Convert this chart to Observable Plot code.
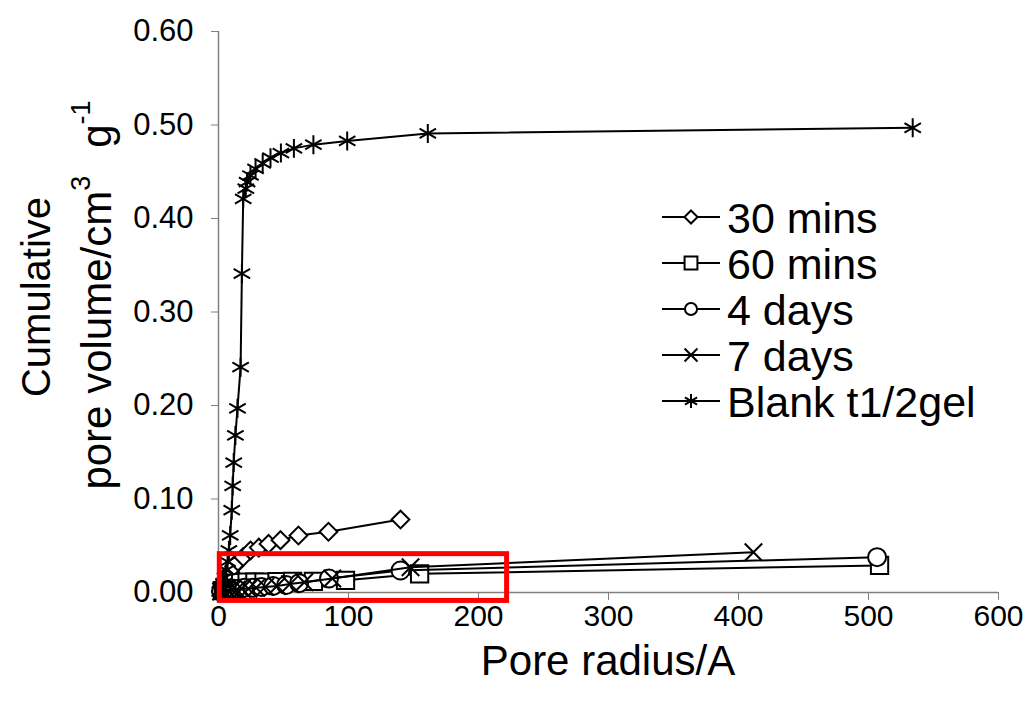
<!DOCTYPE html>
<html>
<head>
<meta charset="utf-8">
<script src="https://cdn.jsdelivr.net/npm/d3@7"></script>
<script src="https://cdn.jsdelivr.net/npm/@observablehq/plot@0.6"></script>
<style>
  html, body { margin: 0; padding: 0; background: #fff; }
  #chart { width: 1029px; height: 704px; }
</style>
</head>
<body>
<div id="chart"></div>
<script>
// ---- data ----
const seriesNames = ["30 mins", "60 mins", "4 days", "7 days", "Blank t1/2gel"];

const r30 = [2, 3, 5, 7, 9, 12, 15, 19, 24.6, 31, 38.5, 47.7, 61.5, 84.6, 140];
const v30 = [0.002, 0.005, 0.010, 0.016, 0.022, 0.028, 0.033, 0.038, 0.045, 0.048, 0.052, 0.056, 0.061, 0.065, 0.078];

const r60 = [3, 5, 7, 10, 13, 17, 22, 28, 35, 45, 57, 73, 97.7, 154.7, 508.5];
const v60 = [0.002, 0.005, 0.007, 0.009, 0.010, 0.0105, 0.011, 0.011, 0.0112, 0.0115, 0.0118, 0.012, 0.013, 0.020, 0.029];

const r4d = [2, 4, 6, 9, 12, 16, 20, 26, 33, 42, 52, 62, 85, 140, 506.6];
const v4d = [0.001, 0.002, 0.003, 0.003, 0.004, 0.004, 0.005, 0.005, 0.006, 0.007, 0.008, 0.010, 0.015, 0.0235, 0.0378];

const r7d = [2, 4, 7, 10, 14, 18, 23, 29, 36, 45, 55, 66, 87.5, 147.7, 411.5];
const v7d = [0.001, 0.002, 0.002, 0.003, 0.003, 0.004, 0.004, 0.005, 0.006, 0.007, 0.009, 0.011, 0.015, 0.027, 0.043];

const rBlank = [1, 2, 3, 4, 5, 6, 7, 8, 9, 10.2, 10.9, 11.7, 13, 14.6, 17, 18, 19, 21, 22, 24.6, 28.5, 34, 40, 48, 58, 73, 99, 161, 534];
const vBlank = [0.001, 0.003, 0.006, 0.010, 0.016, 0.024, 0.033, 0.045, 0.061, 0.088, 0.114, 0.139, 0.168, 0.197, 0.241, 0.341, 0.421, 0.432, 0.439, 0.446, 0.453, 0.459, 0.465, 0.470, 0.475, 0.479, 0.483, 0.491, 0.497];

const xTicks = [0, 100, 200, 300, 400, 500, 600];
const yTicks = [0, 0.1, 0.2, 0.3, 0.4, 0.5, 0.6];

// highlighted region (red annotation box), data units
const boxX = [1, 222];
const boxY = [-0.009, 0.041];

// ---- styling ----
const symbols = ["diamond2", "square2", "circle", "times", "asterisk"];
const radii   = [8, 11, 9, 8, 9];
const fills   = ["white", "white", "white", "none", "none"];
const FONT = "'Liberation Sans', Arial, Helvetica, sans-serif";

const rs = [r30, r60, r4d, r7d, rBlank];
const vs = [v30, v60, v4d, v7d, vBlank];
const series = seriesNames.map((name, i) =>
  rs[i].map((r, j) => ({series: name, radius: r, volume: vs[i][j]}))
);

const marks = [
  Plot.ruleX([0], {stroke: "#808080", strokeWidth: 1.5}),
  Plot.ruleY([0], {stroke: "#808080", strokeWidth: 1.5}),
  Plot.axisX({ticks: xTicks, tickSize: 8, tickPadding: 4, label: null, stroke: "#808080", fill: "black", fontSize: 30}),
  Plot.axisY({ticks: yTicks, tickSize: 7, tickPadding: 18, label: null, stroke: "#808080", fill: "black", fontSize: 31, tickFormat: d3.format(".2f")})
];
series.forEach((data, i) => {
  marks.push(Plot.line(data, {x: "radius", y: "volume", stroke: "black", strokeWidth: 2}));
  marks.push(Plot.dot(data, {x: "radius", y: "volume", symbol: () => symbols[i], r: radii[i],
    fill: fills[i], stroke: "black", strokeWidth: 2}));
});
marks.push(Plot.rect([{x1: boxX[0], x2: boxX[1], y1: boxY[0], y2: boxY[1]}],
  {x1: "x1", x2: "x2", y1: "y1", y2: "y2", fill: "none", stroke: "#ff0000", strokeWidth: 5}));

const chart = Plot.plot({
  width: 1029,
  height: 704,
  marginLeft: 218,
  marginRight: 31,
  marginTop: 31,
  marginBottom: 112,
  x: {domain: [0, 600]},
  y: {domain: [0, 0.6]},
  symbol: {domain: symbols, range: symbols},
  style: {fontFamily: FONT, fontSize: "30px", color: "black", background: "white", overflow: "visible"},
  marks
});
document.getElementById("chart").appendChild(chart);

// ---- axis titles and legend ----
const svg = d3.select(chart);

svg.append("text")
  .attr("x", 608).attr("y", 660)
  .attr("text-anchor", "middle").attr("dominant-baseline", "central")
  .style("font-family", FONT).style("font-size", "42px").attr("fill", "black")
  .text("Pore radius/A");

svg.append("text")
  .attr("transform", "translate(36,297) rotate(-90)")
  .attr("text-anchor", "middle").attr("dominant-baseline", "central")
  .style("font-family", FONT).style("font-size", "40px").attr("fill", "black")
  .text("Cumulative");

const t2 = svg.append("text")
  .attr("transform", "translate(96,295) rotate(-90)")
  .attr("text-anchor", "middle").attr("dominant-baseline", "central")
  .style("font-family", FONT).style("font-size", "42px").attr("fill", "black");
t2.append("tspan").text("pore volume/cm");
t2.append("tspan").attr("baseline-shift", "super").style("font-size", "27px").text("3");
t2.append("tspan").attr("dx", 28).text("g");
t2.append("tspan").attr("baseline-shift", "super").style("font-size", "27px").text("-1");

// legend
const legendSizes = [110, 210, 115, 110, 140];
const d3Symbols = [d3.symbolDiamond2, d3.symbolSquare2, d3.symbolCircle, d3.symbolTimes, d3.symbolAsterisk];
const lg = svg.append("g");
seriesNames.forEach((name, i) => {
  const y = 217 + i * 46;
  lg.append("line").attr("x1", 662).attr("x2", 720).attr("y1", y).attr("y2", y)
    .attr("stroke", "black").attr("stroke-width", 2);
  lg.append("path").attr("d", d3.symbol(d3Symbols[i], legendSizes[i])())
    .attr("transform", `translate(691,${y})`)
    .attr("fill", fills[i]).attr("stroke", "black").attr("stroke-width", 2);
  lg.append("text").attr("x", 727).attr("y", y + 1)
    .attr("text-anchor", "start")
    .attr("dominant-baseline", "central")
    .style("font-family", FONT).style("font-size", "43px").attr("fill", "black")
    .text(name);
});
</script>
</body>
</html>
